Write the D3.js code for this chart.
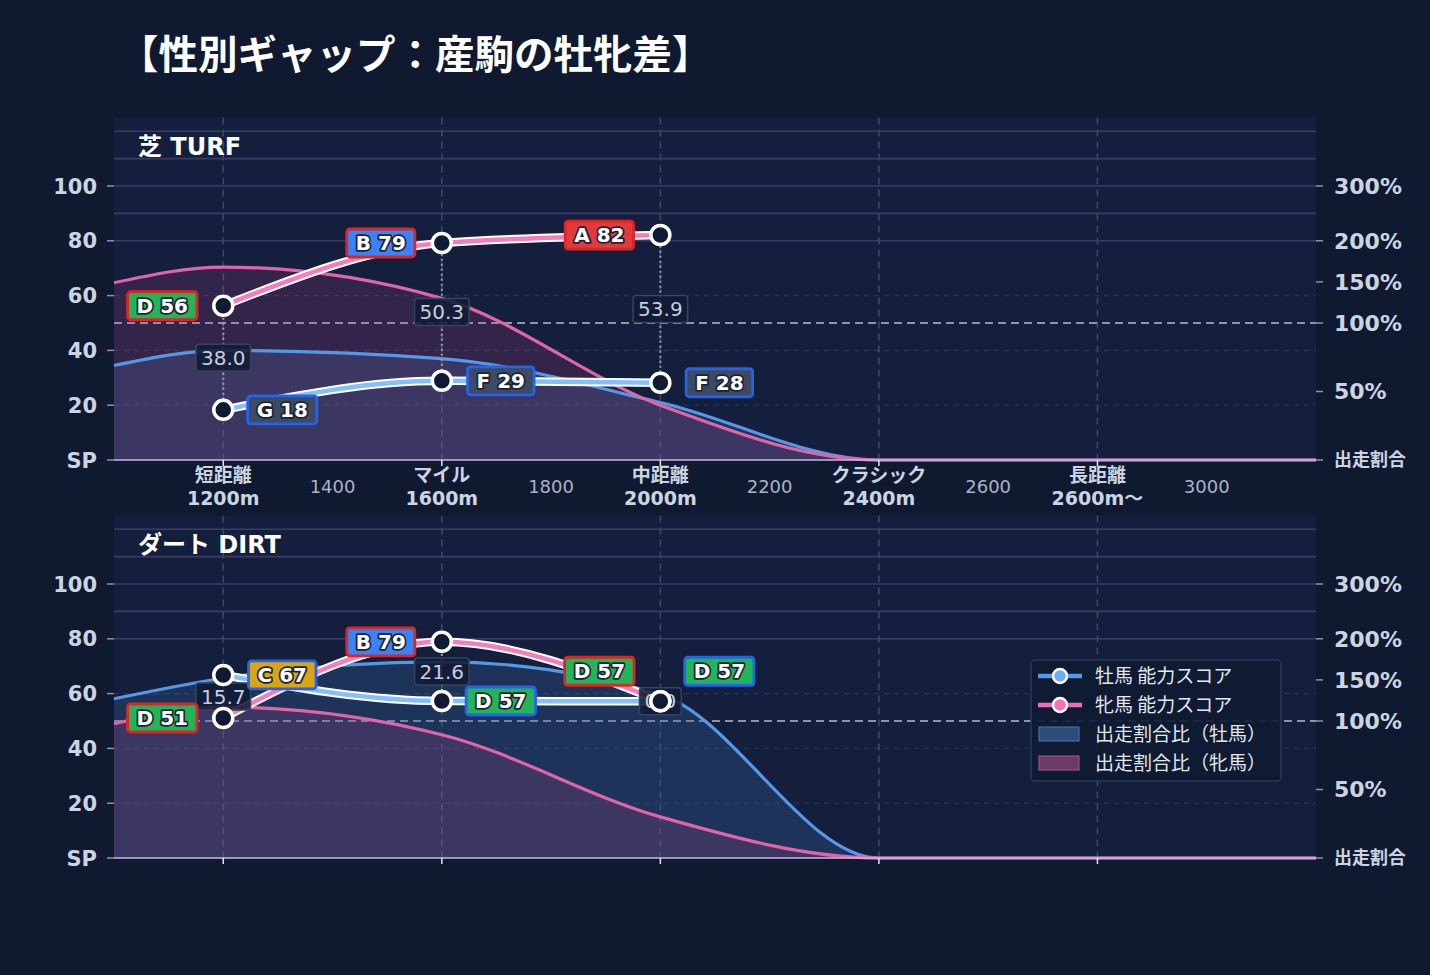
<!DOCTYPE html>
<html>
<head>
<meta charset="utf-8">
<script src="https://cdn.jsdelivr.net/npm/d3@7"></script>
<style>
  body { margin: 0; background: #0f1930; }
  svg { display: block; font-family: "DejaVu Sans", "Noto Sans CJK JP", sans-serif; }
</style>
</head>
<body>
<svg id="chart" width="1430" height="975"></svg>
<script>
// 出走割合比（%）
const distances       = [1000, 1200, 1600, 2000, 2400, 2800, 3200];
const turfMaleShare   = [69,   80,   74,   42,   0,    0,    0];
const turfFemaleShare = [149,  168,  130,  40,   0,    0,    0];
const dirtMaleShare   = [127,  152,  172,  132,  0,    0,    0];
const dirtFemaleShare = [98,   117,  90,   30,   0,    0,    0];

// 能力スコア
const scoreDistances  = [1200, 1600, 2000];
const turfMaleScore   = [18.3, 28.9, 28.2];
const turfFemaleScore = [56.3, 79.2, 82.1];
const dirtMaleScore   = [66.8, 57.3, 57.2];
const dirtFemaleScore = [51.1, 78.9, 57.2];

// 軸
const majorTicks  = [1200, 1600, 2000, 2400, 2800];
const majorNames  = ["短距離", "マイル", "中距離", "クラシック", "長距離"];
const majorLabels = ["1200m", "1600m", "2000m", "2400m", "2600m〜"];
const minorTicks  = [1400, 1800, 2200, 2600, 3000];
const scoreTicks  = [0, 20, 40, 60, 80, 100];
const shareTicks  = [0, 50, 100, 150, 200, 300];
const bandLines   = [80, 90, 100, 110, 120];

const legendItems = ["牡馬 能力スコア", "牝馬 能力スコア", "出走割合比（牡馬）", "出走割合比（牝馬）"];

const gradeSteps = [[80, "A"], [70, "B"], [60, "C"], [50, "D"], [40, "E"], [20, "F"], [0, "G"]];
const gradeFill = { A: "#e0393e", B: "#3b82f6", C: "#d9a514", D: "#22b456", E: "#8b5cf6", F: "#3c4a64", G: "#3c4a64" };
const grade = v => gradeSteps.find(s => v >= s[0])[1];

const col = {
    maleLine: "#5599e6", femaleLine: "#e065a8",
    maleFill: "rgba(56,98,160,0.3)", femaleFill: "rgba(236,72,153,0.15)",
    maleScore: "#86c0fa", femaleScore: "#f27fbb",
    maleBorder: "#2563eb", femaleBorder: "#dc2626",
    tick: "#cbd5e1"
};

const svg = d3.select("#chart");
const left = 114, right = 1316, plotH = 342.5;

const x = d3.scaleLinear().domain([1000, 3200]).range([left, right]);

// タイトル
svg.append("text")
    .attr("x", 119).attr("y", 69)
    .attr("fill", "#ffffff")
    .style("font-family", "'Noto Sans CJK JP'")
    .style("font-size", "39.5px").style("font-weight", "bold")
    .text("【性別ギャップ：産駒の牡牝差】");

function drawPanel(opt) {
    const base = opt.base;
    const y = d3.scaleLinear().domain([0, 125]).range([base, base - plotH]);
    // 右軸（出走割合）は区間ごとの線形
    const yR = d3.scaleLinear().domain([0, 100, 200, 300, 400]).range([y(0), y(50), y(80), y(100), y(120)]);
    const g = svg.append("g");

    g.append("rect")
        .attr("x", left).attr("y", y(125))
        .attr("width", right - left).attr("height", plotH)
        .attr("fill", "#131f3c");

    // グリッド
    g.selectAll(".hgrid").data([20, 40, 60]).enter().append("line")
        .attr("x1", left).attr("x2", right)
        .attr("y1", d => y(d)).attr("y2", d => y(d))
        .attr("stroke", "#27355a").attr("stroke-width", 1.2).attr("stroke-dasharray", "5,5");

    g.selectAll(".band").data(bandLines).enter().append("line")
        .attr("x1", left).attr("x2", right)
        .attr("y1", d => y(d)).attr("y2", d => y(d))
        .attr("stroke", "#3a3b68").attr("stroke-width", 1.6);

    g.selectAll(".vgrid").data(majorTicks).enter().append("line")
        .attr("x1", d => x(d)).attr("x2", d => x(d))
        .attr("y1", y(125)).attr("y2", y(0))
        .attr("stroke", "#3a4868").attr("stroke-width", 1.6).attr("stroke-dasharray", "7,5");

    g.append("line")
        .attr("x1", left).attr("x2", right)
        .attr("y1", yR(100)).attr("y2", yR(100))
        .attr("stroke", "#8b94a9").attr("stroke-width", 1.8).attr("stroke-dasharray", "8,5");

    // 出走割合比
    const series = [
        { vals: opt.maleShare, fill: col.maleFill, line: col.maleLine },
        { vals: opt.femaleShare, fill: col.femaleFill, line: col.femaleLine }
    ];
    const area = d3.area()
        .x((d, i) => x(distances[i]))
        .y0(yR(0)).y1(d => yR(d))
        .curve(d3.curveMonotoneX);
    const line = d3.line()
        .x((d, i) => x(distances[i]))
        .y(d => yR(d))
        .curve(d3.curveMonotoneX);

    series.forEach(s => {
        g.append("path").datum(s.vals).attr("d", area).attr("fill", s.fill);
    });
    series.forEach(s => {
        g.append("path").datum(s.vals).attr("d", line)
            .attr("fill", "none").attr("stroke", s.line).attr("stroke-width", 3.2);
    });

    // 軸線
    g.append("line")
        .attr("x1", left).attr("x2", right)
        .attr("y1", y(0)).attr("y2", y(0))
        .attr("stroke", "#c4bde0").attr("stroke-width", 1.5);

    // 左軸
    const yAxis = g.append("g");
    yAxis.selectAll("line").data(scoreTicks).enter().append("line")
        .attr("x1", left - 7).attr("x2", left)
        .attr("y1", d => y(d)).attr("y2", d => y(d))
        .attr("stroke", "#8a95aa").attr("stroke-width", 1.5);
    yAxis.selectAll("text").data(scoreTicks).enter().append("text")
        .attr("x", left - 17).attr("y", d => y(d)).attr("dy", "0.36em")
        .attr("text-anchor", "end").attr("fill", col.tick)
        .style("font-size", "21px").style("font-weight", "bold")
        .text(d => d === 0 ? "SP" : d);

    // 右軸
    const rAxis = g.append("g");
    rAxis.selectAll("line").data(shareTicks).enter().append("line")
        .attr("x1", right).attr("x2", right + 7)
        .attr("y1", d => yR(d)).attr("y2", d => yR(d))
        .attr("stroke", "#8a95aa").attr("stroke-width", 1.5);
    rAxis.selectAll("text").data(shareTicks).enter().append("text")
        .attr("x", right + 18).attr("y", d => yR(d)).attr("dy", "0.36em")
        .attr("fill", col.tick)
        .style("font-size", d => d === 0 ? "18px" : "22px").style("font-weight", "bold")
        .text(d => d === 0 ? "出走割合" : d + "%");

    // x目盛
    g.selectAll(".xtick").data(majorTicks).enter().append("line")
        .attr("x1", d => x(d)).attr("x2", d => x(d))
        .attr("y1", y(0)).attr("y2", y(0) + 6)
        .attr("stroke", "#dfe4ee").attr("stroke-width", 1.5);

    if (opt.xLabels) {
        g.selectAll(".xname").data(majorTicks).enter().append("text")
            .attr("x", d => x(d)).attr("y", y(0) + 22)
            .attr("text-anchor", "middle").attr("fill", col.tick)
            .style("font-size", "19px").style("font-weight", "bold")
            .text((d, i) => majorNames[i]);
        g.selectAll(".xdist").data(majorTicks).enter().append("text")
            .attr("x", d => x(d)).attr("y", y(0) + 45)
            .attr("text-anchor", "middle").attr("fill", col.tick)
            .style("font-size", "19px").style("font-weight", "bold")
            .text((d, i) => majorLabels[i]);
        g.selectAll(".xminor").data(minorTicks).enter().append("text")
            .attr("x", d => x(d)).attr("y", y(0) + 33)
            .attr("text-anchor", "middle").attr("fill", "#aab4c6")
            .style("font-size", "18px")
            .text(d => d);
    }

    // パネル名
    g.append("text")
        .attr("x", 138).attr("y", y(125) + 37)
        .attr("fill", "#ffffff")
        .style("font-size", "24px").style("font-weight", "bold")
        .text(opt.title);

    // 能力スコア
    const pts = scoreDistances.map((d, i) => ({
        d, m: opt.maleScore[i], f: opt.femaleScore[i]
    }));

    g.selectAll(".conn").data(pts).enter().append("line")
        .attr("x1", p => x(p.d)).attr("x2", p => x(p.d))
        .attr("y1", p => y(p.m)).attr("y2", p => y(p.f))
        .attr("stroke", "#95a1b6").attr("stroke-width", 2).attr("stroke-dasharray", "2,3");

    const scoreLine = d3.line()
        .x(p => x(p.d)).y(p => y(p.v))
        .curve(d3.curveMonotoneX);

    [["m", col.maleScore], ["f", col.femaleScore]].forEach(([k, c]) => {
        const dat = pts.map(p => ({ d: p.d, v: p[k] }));
        g.append("path").datum(dat).attr("d", scoreLine)
            .attr("fill", "none").attr("stroke", "#ffffff").attr("stroke-width", 8.5);
        g.append("path").datum(dat).attr("d", scoreLine)
            .attr("fill", "none").attr("stroke", c).attr("stroke-width", 4.5);
    });

    // 差分ラベル
    pts.forEach(p => {
        const gx = x(p.d), gy = (y(p.m) + y(p.f)) / 2;
        const lg = g.append("g");
        const r = lg.append("rect");
        const t = lg.append("text")
            .attr("x", gx).attr("y", gy).attr("dy", "0.36em")
            .attr("text-anchor", "middle").attr("fill", "#c6cedb")
            .style("font-size", "20px")
            .text(Math.abs(p.f - p.m).toFixed(1));
        const w = t.node().getComputedTextLength() + 10;
        r.attr("x", gx - w / 2).attr("y", gy - 13.5)
            .attr("width", w).attr("height", 27).attr("rx", 3)
            .attr("fill", "rgba(17,27,52,0.88)").attr("stroke", "#36445f").attr("stroke-width", 1.5);
    });

    // マーカー
    pts.forEach(p => {
        [p.m, p.f].forEach(v => {
            g.append("circle")
                .attr("cx", x(p.d)).attr("cy", y(v)).attr("r", 9.5)
                .attr("fill", "#101a33").attr("stroke", "#ffffff").attr("stroke-width", 3.5);
        });
    });

    // グレードバッジ（牡馬は右、牝馬は左。重なる時は上へ）
    pts.forEach(p => {
        const shift = Math.abs(p.m - p.f) < 4 ? -30 : 0;
        [[p.m, 59, col.maleBorder], [p.f, -61, col.femaleBorder]].forEach(([v, dx, border]) => {
            const cx = x(p.d) + dx, cy = y(v) + shift;
            const gr = grade(v);
            const bg = g.append("g");
            const r = bg.append("rect");
            const t = bg.append("text")
                .attr("x", cx).attr("y", cy).attr("dy", "0.36em")
                .attr("text-anchor", "middle").attr("fill", "#ffffff")
                .attr("stroke", "#1b2436").attr("stroke-width", 3.5)
                .attr("paint-order", "stroke").attr("stroke-linejoin", "round")
                .style("font-size", "20px").style("font-weight", "bold")
                .text(gr + " " + Math.round(v));
            const w = t.node().getComputedTextLength() + 18;
            r.attr("x", cx - w / 2).attr("y", cy - 14)
                .attr("width", w).attr("height", 28).attr("rx", 3)
                .attr("fill", gradeFill[gr]).attr("stroke", border).attr("stroke-width", 2.8);
        });
    });

    // 凡例
    if (opt.legend) {
        const lx = 1031, ly = 660;
        const lgd = g.append("g");
        lgd.append("rect")
            .attr("x", lx).attr("y", ly).attr("width", 250).attr("height", 121).attr("rx", 4)
            .attr("fill", "rgba(16,25,50,0.9)").attr("stroke", "#2d3954").attr("stroke-width", 1.5);
        legendItems.forEach((txt, i) => {
            const cy = ly + 16 + i * 29;
            if (i < 2) {
                lgd.append("line")
                    .attr("x1", lx + 7).attr("x2", lx + 51).attr("y1", cy).attr("y2", cy)
                    .attr("stroke", i === 0 ? col.maleLine : "#ea6fb2").attr("stroke-width", 4.5);
                lgd.append("circle")
                    .attr("cx", lx + 29).attr("cy", cy).attr("r", 7)
                    .attr("fill", i === 0 ? "#6aaef5" : "#f472b6")
                    .attr("stroke", "#ffffff").attr("stroke-width", 2.5);
            } else {
                lgd.append("rect")
                    .attr("x", lx + 8).attr("y", cy - 7).attr("width", 40).attr("height", 14)
                    .attr("fill", i === 2 ? "#2e4c7a" : "#6a3a68")
                    .attr("stroke", i === 2 ? "#3f6eae" : "#9e4c8c").attr("stroke-width", 1.2);
            }
            lgd.append("text")
                .attr("x", lx + 64).attr("y", cy).attr("dy", "0.35em")
                .attr("fill", "#e2e8f0")
                .style("font-family", "'Noto Sans CJK JP'")
                .style("font-size", "19px")
                .text(txt);
        });
    }
}

drawPanel({
    base: 460, title: "芝 TURF", xLabels: true, legend: false,
    maleShare: turfMaleShare, femaleShare: turfFemaleShare,
    maleScore: turfMaleScore, femaleScore: turfFemaleScore
});
drawPanel({
    base: 858, title: "ダート DIRT", xLabels: false, legend: true,
    maleShare: dirtMaleShare, femaleShare: dirtFemaleShare,
    maleScore: dirtMaleScore, femaleScore: dirtFemaleScore
});
</script>
</body>
</html>
